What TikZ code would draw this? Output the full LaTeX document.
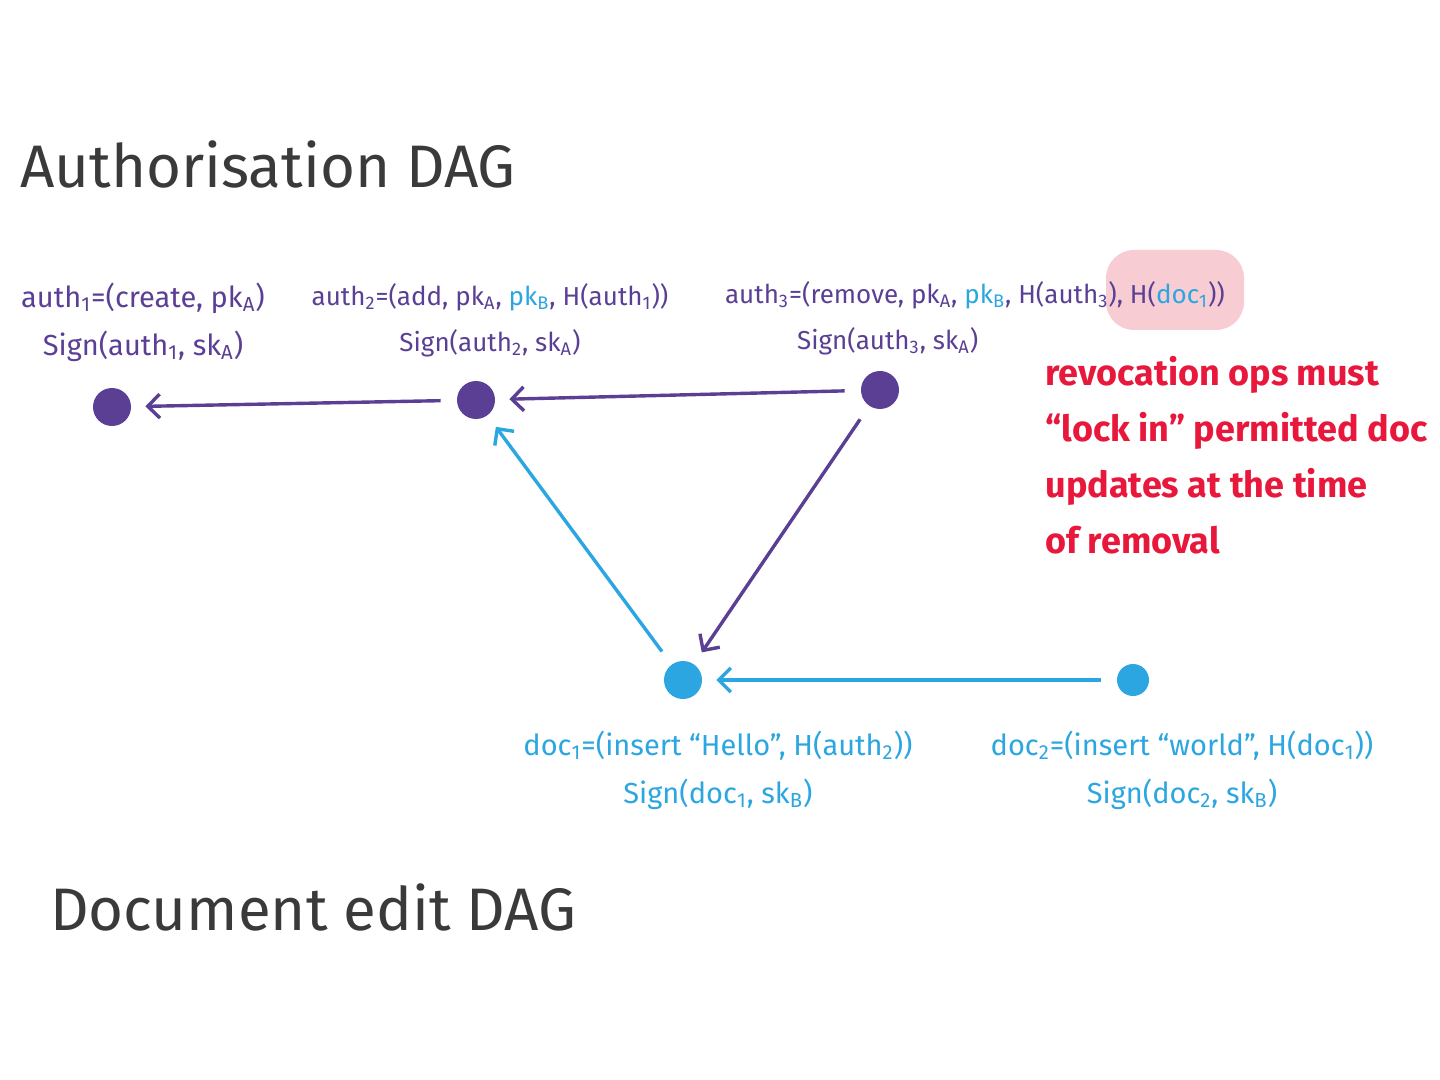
\documentclass[tikz,border=0pt]{standalone}
\usepackage{fontspec}
\setmainfont{Fira Sans}
\usetikzlibrary{arrows.meta}
\definecolor{authc}{HTML}{5B3F94}
\definecolor{docc}{HTML}{2BA6E0}
\definecolor{notec}{HTML}{E8173C}
\definecolor{inkc}{HTML}{3A3A3A}
\definecolor{markc}{HTML}{F7CDD3}
\newcommand\lo[1]{\textsubscript{#1}}

\begin{document}
\begin{tikzpicture}[x=0.5pt, y=-0.5pt,
  >={Straight Barb[length=6pt,width=12pt]},
  dot/.style={circle, inner sep=0pt, minimum size=19pt},
  lbl/.style={align=center, font=\fontsize{13}{23}\selectfont},
  biglbl/.style={lbl, font=\fontsize{14.5}{24}\selectfont},
  title/.style={inkc, anchor=base west, font=\fontsize{30}{32}\selectfont},
  link/.style={->, line width=1.7pt, shorten >=7pt, shorten <=8pt}]
\useasboundingbox (0,0) rectangle (1440,1080);

% titles
\node[title] (T1) at (13,188) {Authorisation DAG};
\node[title] (T2) at (43,930) {Document edit DAG};

% highlight
\fill[markc, rounded corners=14pt] (1106,250) rectangle (1244,330);

% nodes
\node[dot, fill=authc] (A1) at (112,407) {};
\node[dot, fill=authc] (A2) at (476,400) {};
\node[dot, fill=authc] (A3) at (880,390) {};
\node[dot, fill=docc] (D1) at (683,680) {};
\node[dot, fill=docc, minimum size=16pt] (D2) at (1133,680) {};

% labels
\node[biglbl, authc] (LA1) at (143,322) {auth\lo1=(create, pk\lo A)\\ Sign(auth\lo1, sk\lo A)};
\node[lbl, authc] (LA2) at (490,320) {auth\lo2=(add, pk\lo A, \textcolor{docc}{pk\lo B}, H(auth\lo1))\\ Sign(auth\lo2, sk\lo A)};
\node[lbl, authc, align=left] (LA3) at (975,318) {auth\lo3=(remove, pk\lo A, \textcolor{docc}{pk\lo B}, H(auth\lo3), H(\textcolor{docc}{doc\lo1}))\\ \hspace*{36pt}Sign(auth\lo3, sk\lo A)};
\node[biglbl, docc] (LD1) at (718,770) {doc\lo1=(insert ``Hello'', H(auth\lo2))\\ Sign(doc\lo1, sk\lo B)};
\node[biglbl, docc] (LD2) at (1182,770) {doc\lo2=(insert ``world'', H(doc\lo1))\\ Sign(doc\lo2, sk\lo B)};
\node[notec, anchor=north west, inner sep=0pt, align=left, font=\bfseries\fontsize{18}{28}\selectfont] (N) at (1045,356)
  {revocation ops must\\ ``lock in'' permitted doc\\ updates at the time\\ of removal};

% arrows
\draw[link, authc] (A2) -- (A1);
\draw[link, authc] (A3) -- (A2);
\draw[link, authc] (A3) -- (D1);
\draw[link, docc] (D1) -- (A2);
\draw[link, docc] (D2) -- (D1);
\end{tikzpicture}
\end{document}
